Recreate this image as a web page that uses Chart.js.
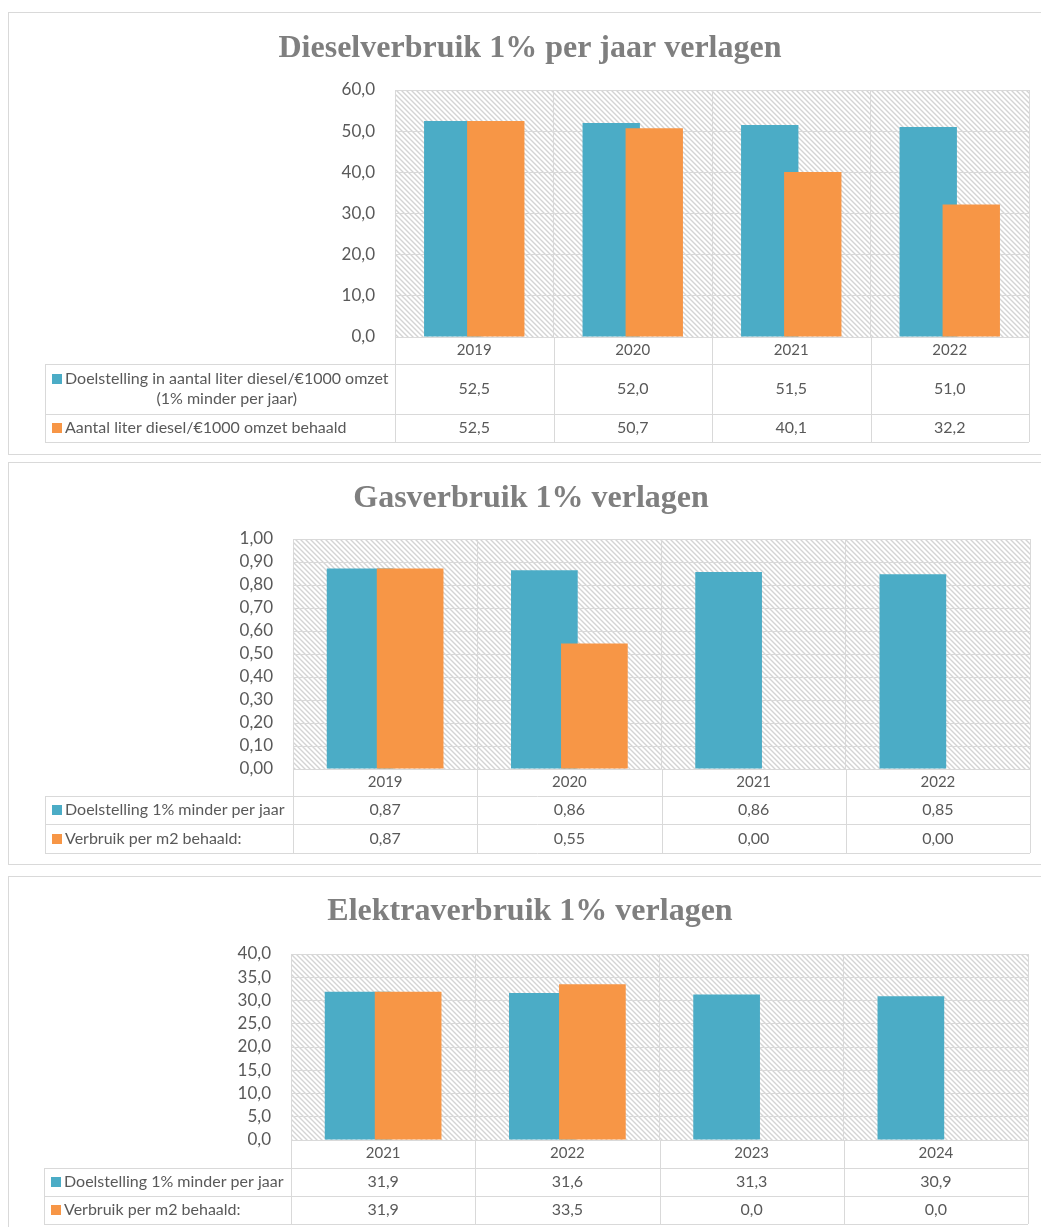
<!DOCTYPE html>
<html>
<head>
<meta charset="utf-8">
<script src="https://cdn.jsdelivr.net/npm/chart.js@4.4.0/dist/chart.umd.min.js"></script>
<style>
  body { margin: 0; background: #fff; width: 1041px; height: 1227px; overflow: hidden; position: relative; }
  .panel { position: absolute; left: 8px; width: 1045px; border: 1px solid #d9d9d9; box-sizing: border-box; }
  canvas { position: absolute; left: 8px; }
</style>
</head>
<body>
<div class="panel" style="top:12px;height:443px"></div>
<div class="panel" style="top:462px;height:403px"></div>
<div class="panel" style="top:876px;height:400px"></div>
<canvas id="diesel" width="1033" height="442" style="top:12px"></canvas>
<canvas id="gas" width="1033" height="402" style="top:462px"></canvas>
<canvas id="elektra" width="1033" height="351" style="top:876px"></canvas>
<script>
// diesel, liter per €1000 omzet
const dieselYears = ['2019', '2020', '2021', '2022'];
const dieselTarget = [52.5, 52.0, 51.5, 51.0];
const dieselActual = [52.5, 50.7, 40.1, 32.2];

// gas, per m2
const gasYears = ['2019', '2020', '2021', '2022'];
const gasTarget = [0.872, 0.864, 0.856, 0.847];
const gasActual = [0.872, 0.546, 0, 0];

// elektra, per m2
const elekYears = ['2021', '2022', '2023', '2024'];
const elekTarget = [31.9, 31.6, 31.3, 30.9];
const elekActual = [31.9, 33.5, 0, 0];

const TEAL = '#4bacc6';
const ORANGE = '#f79646';
const GRID = '#d9d9d9';
const TEXT = '#595959';
const TITLE_SIZE = 32;

function hatch() {
  const s = 5;
  const c = document.createElement('canvas');
  c.width = s; c.height = s;
  const g = c.getContext('2d');
  g.fillStyle = '#fff';
  g.fillRect(0, 0, s, s);
  g.strokeStyle = '#d4d4d4';
  g.lineWidth = 1.4;
  g.beginPath();
  g.moveTo(-1, -1); g.lineTo(s + 1, s + 1);
  g.moveTo(-1, s - 1); g.lineTo(1, s + 1);
  g.moveTo(s - 1, -1); g.lineTo(s + 1, 1);
  g.stroke();
  return c;
}

const hatchPlugin = {
  id: 'hatch',
  beforeDraw(chart) {
    const a = chart.chartArea;
    const ctx = chart.ctx;
    ctx.save();
    ctx.fillStyle = ctx.createPattern(hatch(), 'repeat');
    ctx.fillRect(a.left, a.top, a.right - a.left, a.bottom - a.top);
    ctx.restore();
  }
};

// teal first, orange on top of it
const orderPlugin = {
  id: 'order',
  beforeDatasetsDraw(chart) {
    chart.getDatasetMeta(0).controller.draw();
  },
  beforeDatasetDraw(chart, args) {
    if (args.index === 0) return false;
  }
};

const tablePlugin = {
  id: 'table',
  afterDraw(chart, args, opts) {
    const ctx = chart.ctx;
    const a = chart.chartArea;
    const x = chart.scales.x;
    const rows = opts.rows;
    const tl = opts.tableLeft;
    const n = chart.data.labels.length;
    const y0 = a.bottom;
    const y1 = y0 + rows[0];
    const y2 = y1 + rows[1];
    const y3 = y2 + rows[2];
    const p = v => Math.round(v) + 0.5;

    ctx.save();
    ctx.strokeStyle = GRID;
    ctx.lineWidth = 1;
    ctx.beginPath();
    [y1, y2, y3].forEach(yy => { ctx.moveTo(tl, p(yy)); ctx.lineTo(a.right, p(yy)); });
    ctx.moveTo(p(tl), y1); ctx.lineTo(p(tl), y3);
    for (let i = 0; i <= n; i++) {
      const xx = p(x.getPixelForValue(i - 0.5));
      ctx.moveTo(xx, y0); ctx.lineTo(xx, y3);
    }
    ctx.stroke();

    ctx.font = '16px Lato';
    ctx.textBaseline = 'middle';
    const tops = [y1, y2];
    const hs = [rows[1], rows[2]];
    chart.data.datasets.forEach((ds, s) => {
      const mid = tops[s] + hs[s] / 2;
      const lines = opts.labels[s];
      const first = lines.length > 1 ? mid - 10 : mid;
      ctx.fillStyle = ds.backgroundColor;
      ctx.fillRect(tl + 7, Math.round(first - 5), 10, 10);
      ctx.fillStyle = TEXT;
      ctx.textAlign = 'left';
      ctx.fillText(lines[0], tl + 20, first);
      if (lines.length > 1) {
        const w = ctx.measureText(lines[0]).width;
        ctx.textAlign = 'center';
        ctx.fillText(lines[1], tl + 20 + w / 2, mid + 10);
      }
      ctx.textAlign = 'center';
      ds.data.forEach((v, i) => {
        ctx.fillText(v.toFixed(opts.dec).replace('.', ','), x.getPixelForValue(i), mid);
      });
    });
    ctx.restore();
  }
};

function makeChart(id, c) {
  const W = 1033;
  const padRight = W - c.right;
  const padLeft = 2 * (c.titleCenter - 8) - (W - padRight);
  const lh = TITLE_SIZE * 1.2;
  const fmt = v => v.toFixed(c.dec).replace('.', ',');
  new Chart(document.getElementById(id), {
    type: 'bar',
    data: {
      labels: c.years,
      datasets: [
        { label: c.labels[0].join(' '), data: c.target, backgroundColor: TEAL, borderWidth: 0 },
        { label: c.labels[1].join(' '), data: c.actual, backgroundColor: ORANGE, borderWidth: 0 }
      ]
    },
    options: {
      responsive: false,
      animation: false,
      datasets: { bar: { categoryPercentage: 0.543, barPercentage: 1.333 } },
      layout: { padding: { left: padLeft, right: padRight, top: 0, bottom: 0 } },
      plugins: {
        legend: { display: false },
        tooltip: { enabled: false },
        title: {
          display: true,
          text: c.title,
          color: '#7f7f7f',
          font: { family: 'Liberation Serif', size: TITLE_SIZE, weight: 'bold', lineHeight: 1.2 },
          padding: { top: c.titleMid - lh / 2, bottom: c.top - (c.titleMid - lh / 2) - lh }
        },
        table: { rows: c.rows, tableLeft: c.tableLeft, labels: c.labels, dec: c.dec }
      },
      scales: {
        x: {
          grid: { color: GRID, drawTicks: false, offset: true },
          border: { display: false },
          ticks: { color: TEXT, font: { family: 'Lato', size: 15 }, padding: 4 },
          afterFit: s => { s.height = c.height - c.bottom; }
        },
        y: {
          min: 0,
          max: c.max,
          grid: { color: GRID, drawTicks: false },
          border: { display: false },
          ticks: {
            stepSize: c.step,
            autoSkip: false,
            padding: 20,
            color: TEXT,
            font: { family: 'Lato', size: 17 },
            callback: v => fmt(v)
          },
          afterFit: s => { s.width = c.left - padLeft; }
        }
      }
    },
    plugins: [hatchPlugin, orderPlugin, tablePlugin]
  });
}

makeChart('diesel', {
  title: 'Dieselverbruik 1% per jaar verlagen',
  years: dieselYears, target: dieselTarget, actual: dieselActual,
  labels: [['Doelstelling in aantal liter diesel/€1000 omzet', '(1% minder per jaar)'],
           ['Aantal liter diesel/€1000 omzet behaald']],
  dec: 1, max: 60, step: 10,
  height: 442, left: 387, right: 1021, top: 78, bottom: 325,
  titleCenter: 530, titleMid: 37,
  tableLeft: 37, rows: [27, 50, 28]
});

makeChart('gas', {
  title: 'Gasverbruik 1% verlagen',
  years: gasYears, target: gasTarget, actual: gasActual,
  labels: [['Doelstelling 1% minder per jaar'], ['Verbruik per m2 behaald:']],
  dec: 2, max: 1, step: 0.1,
  height: 402, left: 285, right: 1022, top: 77, bottom: 307,
  titleCenter: 531, titleMid: 36.5,
  tableLeft: 37, rows: [27, 28, 29]
});

makeChart('elektra', {
  title: 'Elektraverbruik 1% verlagen',
  years: elekYears, target: elekTarget, actual: elekActual,
  labels: [['Doelstelling 1% minder per jaar'], ['Verbruik per m2 behaald:']],
  dec: 1, max: 40, step: 5,
  height: 351, left: 283, right: 1020, top: 78, bottom: 264,
  titleCenter: 530, titleMid: 36,
  tableLeft: 36, rows: [28, 28, 28]
});
</script>
</body>
</html>
